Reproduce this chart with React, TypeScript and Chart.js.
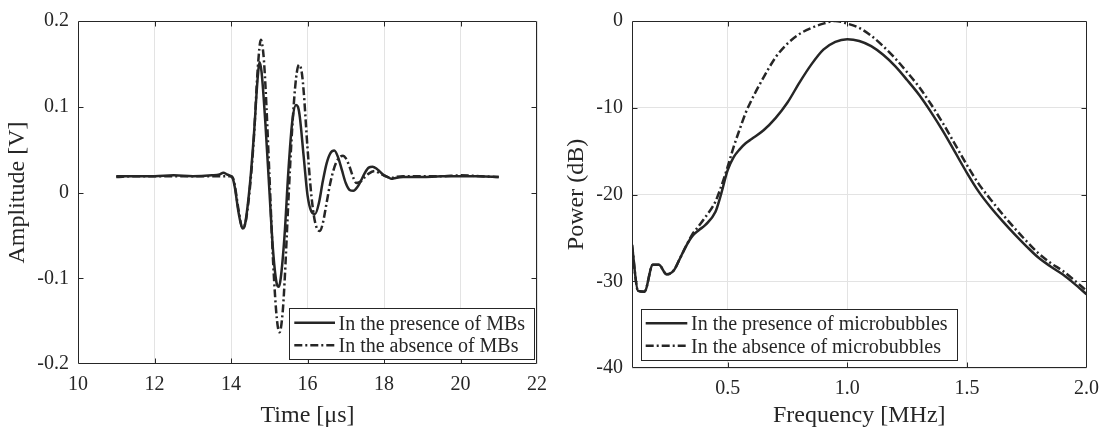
import React, { useEffect, useRef } from 'react';
import { Chart, registerables } from 'chart.js';

Chart.register(...registerables);

// ---------- Left panel data (time domain) ----------
const timeSolid = [
  11.0, 11.5, 12.0, 12.5, 13.0, 13.5, 13.7, 13.8, 13.9, 14.0,
  14.05, 14.1, 14.2, 14.3, 14.35, 14.4, 14.5, 14.6, 14.7, 14.75,
  14.8, 14.9, 15.0, 15.1, 15.2, 15.25, 15.3, 15.4, 15.5, 15.6,
  15.7, 15.75, 15.8, 15.9, 16.0, 16.1, 16.2, 16.3, 16.4, 16.5,
  16.6, 16.7, 16.8, 16.9, 17.0, 17.1, 17.2, 17.3, 17.4, 17.5,
  17.6, 17.7, 17.8, 17.9, 18.0, 18.1, 18.2, 18.3, 18.5, 19.0,
  19.5, 20.0, 20.5, 21.0,
];
const ampSolid = [
  0.019, 0.019, 0.019, 0.020, 0.019, 0.020, 0.021, 0.023, 0.021, 0.019,
  0.016, 0.006, -0.024, -0.042, -0.040, -0.028, 0.012, 0.068, 0.135, 0.152,
  0.140, 0.080, 0.005, -0.068, -0.107, -0.110, -0.100, -0.050, 0.025, 0.082,
  0.102, 0.100, 0.088, 0.042, -0.003, -0.022, -0.025, -0.012, 0.013, 0.034,
  0.046, 0.049, 0.041, 0.026, 0.011, 0.003, 0.002, 0.006, 0.014, 0.023,
  0.029, 0.030, 0.028, 0.024, 0.020, 0.018, 0.016, 0.017, 0.018, 0.018,
  0.019, 0.019, 0.019, 0.018,
];
const timeDashed = [
  11.0, 11.5, 12.0, 12.5, 13.0, 13.5, 13.8, 14.0, 14.05, 14.1,
  14.2, 14.3, 14.35, 14.4, 14.5, 14.6, 14.7, 14.78, 14.85, 14.9,
  15.0, 15.1, 15.2, 15.27, 15.35, 15.4, 15.5, 15.6, 15.7, 15.78,
  15.85, 15.9, 16.0, 16.1, 16.2, 16.32, 16.4, 16.5, 16.6, 16.7,
  16.8, 16.93, 17.0, 17.1, 17.2, 17.28, 17.4, 17.5, 17.6, 17.76,
  17.9, 18.0, 18.1, 18.2, 18.3, 18.5, 19.0, 19.5, 20.0, 20.5,
  21.0,
];
const ampDashed = [
  0.018, 0.019, 0.019, 0.019, 0.019, 0.019, 0.019, 0.019, 0.017, 0.008,
  -0.021, -0.041, -0.039, -0.030, 0.008, 0.065, 0.145, 0.178, 0.160, 0.125,
  0.025, -0.080, -0.148, -0.163, -0.140, -0.105, -0.010, 0.075, 0.133, 0.149,
  0.140, 0.118, 0.052, -0.003, -0.035, -0.045, -0.036, -0.012, 0.012, 0.029,
  0.039, 0.043, 0.040, 0.030, 0.017, 0.011, 0.013, 0.018, 0.022, 0.025,
  0.022, 0.020, 0.018, 0.017, 0.018, 0.019, 0.019, 0.019, 0.020, 0.019,
  0.018,
];
const timeTicks = [10, 12, 14, 16, 18, 20, 22];
const ampTicks = [-0.2, -0.1, 0, 0.1, 0.2];

// ---------- Right panel data (spectrum) ----------
const freqs = [
  0.1, 0.125, 0.152, 0.187, 0.212, 0.245, 0.276, 0.3, 0.325, 0.352,
  0.38, 0.407, 0.449, 0.47, 0.5, 0.525, 0.55, 0.575, 0.6, 0.65,
  0.7, 0.75, 0.8, 0.85, 0.9, 0.95, 1.0, 1.05, 1.1, 1.15,
  1.2, 1.25, 1.3, 1.35, 1.4, 1.45, 1.5, 1.55, 1.6, 1.65,
  1.7, 1.75, 1.8, 1.85, 1.9, 1.95, 2.0,
];
const powSolid = [
  -25.8, -31.1, -31.2, -28.1, -28.1, -29.2, -28.7, -27.4, -26.0, -24.8,
  -24.1, -23.5, -22.0, -20.2, -17.2, -15.7, -14.8, -14.1, -13.6, -12.6,
  -11.2, -9.4, -7.1, -5.0, -3.3, -2.4, -2.1, -2.3, -2.9, -3.9,
  -5.2, -6.8, -8.5, -10.5, -12.7, -15.1, -17.5, -19.7, -21.5, -23.1,
  -24.6, -26.0, -27.3, -28.3, -29.2, -30.3, -31.5,
];
const powDashed = [
  -25.8, -31.1, -31.2, -28.1, -28.1, -29.2, -28.7, -27.4, -26.0, -24.6,
  -23.6, -22.6, -20.8, -19.3, -16.8, -14.5, -12.5, -10.6, -9.1, -6.5,
  -4.2, -2.6, -1.5, -0.8, -0.3, 0.0, -0.3, -0.8, -1.7, -2.9,
  -4.3, -5.9, -7.6, -9.6, -11.8, -14.2, -16.6, -18.8, -20.6, -22.3,
  -23.9, -25.4, -26.8, -27.9, -28.8, -29.9, -31.1,
];
const freqTicks = [0.5, 1.0, 1.5, 2.0];
const powTicks = [-40, -30, -20, -10, 0];

const leftLabels = ['In the presence of MBs', 'In the absence of MBs'];
const rightLabels = ['In the presence of microbubbles', 'In the absence of microbubbles'];

const INK = '#262626';
const GRID = '#e3e3e3';
const FONT = "'Liberation Serif', 'Times New Roman', serif";

Chart.defaults.font.family = FONT;
Chart.defaults.color = INK;

function framePlugin() {
  return {
    id: 'matlabFrame',
    afterDatasetsDraw(chart: any) {
      const { ctx, chartArea: a, scales } = chart;
      const xs = scales.x;
      const ys = scales.y;
      const L = Math.round(a.left) + 0.5;
      const R = Math.round(a.right) - 0.5;
      const T = Math.round(a.top) + 0.5;
      const B = Math.round(a.bottom) - 0.5;
      const tl = 5;
      ctx.save();
      ctx.setLineDash([]);
      ctx.strokeStyle = INK;
      ctx.lineWidth = 1;
      ctx.beginPath();
      ctx.rect(L, T, R - L, B - T);
      ctx.stroke();
      ctx.beginPath();
      xs.ticks.forEach((t: any) => {
        const px = Math.round(xs.getPixelForValue(t.value)) + 0.5;
        if (px < L + 1 || px > R - 1) return;
        ctx.moveTo(px, B);
        ctx.lineTo(px, B - tl);
        ctx.moveTo(px, T);
        ctx.lineTo(px, T + tl);
      });
      ys.ticks.forEach((t: any) => {
        const py = Math.round(ys.getPixelForValue(t.value)) + 0.5;
        if (py < T + 1 || py > B - 1) return;
        ctx.moveTo(L, py);
        ctx.lineTo(L + tl, py);
        ctx.moveTo(R, py);
        ctx.lineTo(R - tl, py);
      });
      ctx.stroke();
      ctx.restore();
    },
  };
}

function legendPlugin(cfg: any) {
  return {
    id: 'boxLegend',
    afterDraw(chart: any) {
      const ctx = chart.ctx;
      ctx.save();
      ctx.fillStyle = '#ffffff';
      ctx.fillRect(cfg.left, cfg.top, cfg.width, cfg.height);
      ctx.strokeStyle = INK;
      ctx.lineWidth = 1;
      ctx.setLineDash([]);
      ctx.strokeRect(cfg.left, cfg.top, cfg.width, cfg.height);
      chart.data.datasets.forEach((ds: any, i: number) => {
        const yRow = cfg.rows[i];
        ctx.setLineDash(ds.borderDash || []);
        ctx.lineWidth = ds.borderWidth;
        ctx.strokeStyle = ds.borderColor;
        ctx.beginPath();
        ctx.moveTo(cfg.lineX0, yRow);
        ctx.lineTo(cfg.lineX1, yRow);
        ctx.stroke();
        ctx.setLineDash([]);
        ctx.fillStyle = INK;
        ctx.font = `20px ${FONT}`;
        ctx.textBaseline = 'alphabetic';
        ctx.textAlign = 'left';
        ctx.fillText(ds.label, cfg.textX, yRow + cfg.textDy);
      });
      ctx.restore();
    },
  };
}

function toPoints(xs: number[], ys: number[]) {
  return xs.map((x, i) => ({ x, y: ys[i] }));
}

function fixedTicks(values: number[]) {
  return (scale: any) => {
    scale.ticks = values.map((v) => ({ value: v }));
  };
}

const DASH = [8, 3, 2, 3];

export default function App() {
  const leftRef = useRef<HTMLCanvasElement>(null);
  const rightRef = useRef<HTMLCanvasElement>(null);

  useEffect(() => {
    const tickFont = { size: 20, family: FONT };
    const titleFont = { size: 24, family: FONT };

    const left = new Chart(leftRef.current as HTMLCanvasElement, {
      type: 'line',
      data: {
        datasets: [
          {
            label: leftLabels[0],
            data: toPoints(timeSolid, ampSolid),
            borderColor: INK,
            borderWidth: 2.5,
            pointRadius: 0,
            cubicInterpolationMode: 'monotone',
            fill: false,
            order: 1,
          },
          {
            label: leftLabels[1],
            data: toPoints(timeDashed, ampDashed),
            borderColor: INK,
            borderWidth: 2.5,
            borderDash: DASH,
            pointRadius: 0,
            cubicInterpolationMode: 'monotone',
            fill: false,
            order: 0,
          },
        ],
      },
      options: {
        animation: false,
        responsive: false,
        devicePixelRatio: 1,
        layout: { padding: { left: 0, right: 23, top: 19, bottom: 0 } },
        plugins: { legend: { display: false }, tooltip: { enabled: false } },
        scales: {
          x: {
            type: 'linear',
            min: 10,
            max: 22,
            afterBuildTicks: fixedTicks(timeTicks),
            afterFit: (s: any) => { s.height = 68; },
            grid: { display: true, color: GRID, lineWidth: 1, drawTicks: false },
            border: { display: false },
            ticks: { font: tickFont, color: INK, padding: 9, maxRotation: 0, callback: (v: any) => String(v) },
            title: { display: true, text: 'Time [μs]', font: titleFont, color: INK, padding: { top: 0, bottom: 2 } },
          },
          y: {
            type: 'linear',
            min: -0.2,
            max: 0.2,
            afterBuildTicks: fixedTicks(ampTicks),
            afterFit: (s: any) => { s.width = 78; },
            grid: { display: false, drawTicks: false },
            border: { display: false },
            ticks: {
              font: tickFont,
              color: INK,
              padding: 9,
              callback: (v: any) => (Math.abs(Number(v)) < 1e-9 ? '0' : Number(v).toFixed(1)),
            },
            title: { display: true, text: 'Amplitude [V]', font: titleFont, color: INK, padding: { top: 3, bottom: 0 } },
          },
        },
      },
      plugins: [
        framePlugin(),
        legendPlugin({
          left: 289.5, top: 308.5, width: 245, height: 51,
          rows: [322.7, 345.2], lineX0: 294.3, lineX1: 335, textX: 338.5, textDy: 6.8,
        }),
      ],
    } as any);

    const right = new Chart(rightRef.current as HTMLCanvasElement, {
      type: 'line',
      data: {
        datasets: [
          {
            label: rightLabels[0],
            data: toPoints(freqs, powSolid),
            borderColor: INK,
            borderWidth: 2.5,
            pointRadius: 0,
            cubicInterpolationMode: 'monotone',
            fill: false,
            order: 1,
          },
          {
            label: rightLabels[1],
            data: toPoints(freqs, powDashed),
            borderColor: INK,
            borderWidth: 2.5,
            borderDash: DASH,
            pointRadius: 0,
            cubicInterpolationMode: 'monotone',
            fill: false,
            order: 0,
          },
        ],
      },
      options: {
        animation: false,
        responsive: false,
        devicePixelRatio: 1,
        layout: { padding: { left: 0, right: 16, top: 21, bottom: 0 } },
        plugins: { legend: { display: false }, tooltip: { enabled: false } },
        scales: {
          x: {
            type: 'linear',
            min: 0.1,
            max: 2.0,
            afterBuildTicks: fixedTicks(freqTicks),
            afterFit: (s: any) => { s.height = 64; },
            grid: { display: true, color: GRID, lineWidth: 1, drawTicks: false },
            border: { display: false },
            ticks: { font: tickFont, color: INK, padding: 9, maxRotation: 0, callback: (v: any) => Number(v).toFixed(1) },
            title: { display: true, text: 'Frequency [MHz]', font: titleFont, color: INK, padding: { top: 0, bottom: 2 } },
          },
          y: {
            type: 'linear',
            min: -40,
            max: 0,
            afterBuildTicks: fixedTicks(powTicks),
            afterFit: (s: any) => { s.width = 78; },
            grid: { display: true, color: GRID, lineWidth: 1, drawTicks: false },
            border: { display: false },
            ticks: { font: tickFont, color: INK, padding: 9, callback: (v: any) => String(v) },
            title: { display: true, text: 'Power (dB)', font: titleFont, color: INK, padding: { top: 8, bottom: 0 } },
          },
        },
      },
      plugins: [
        framePlugin(),
        legendPlugin({
          left: 87.5, top: 309.5, width: 316, height: 51,
          rows: [323.3, 345.7], lineX0: 91.7, lineX1: 133.3, textX: 137, textDy: 6.8,
        }),
      ],
    } as any);

    return () => {
      left.destroy();
      right.destroy();
    };
  }, []);

  return (
    <div style={{ position: 'fixed', left: 0, top: 0, width: 1108, height: 432, background: '#ffffff' }}>
      <canvas
        ref={leftRef}
        width={560}
        height={432}
        style={{ position: 'absolute', left: 0, top: 0, width: 560, height: 432 }}
      />
      <canvas
        ref={rightRef}
        width={554}
        height={432}
        style={{ position: 'absolute', left: 554, top: 0, width: 554, height: 432 }}
      />
    </div>
  );
}
